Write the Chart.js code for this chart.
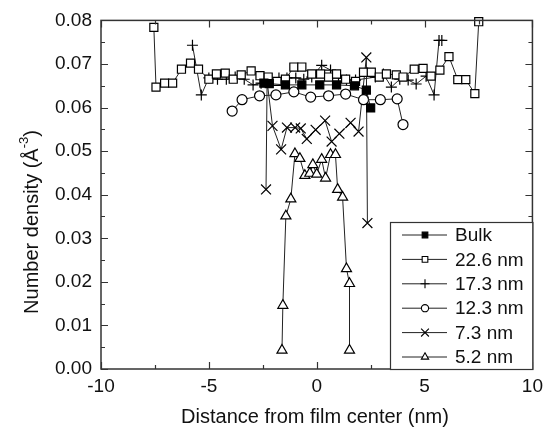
<!DOCTYPE html>
<html>
<head>
<meta charset="utf-8">
<script src="https://cdn.jsdelivr.net/npm/chart.js@4.4.1/dist/chart.umd.min.js"></script>
<style>
  html, body { margin: 0; padding: 0; background: #fff; }
  canvas { display: block; }
</style>
</head>
<body>
<canvas id="densityChart" width="549" height="429"></canvas>
<script>
// Axis ticks
const xTickValues = [-10, -5, 0, 5, 10];
const yTickValues = [0.00, 0.01, 0.02, 0.03, 0.04, 0.05, 0.06, 0.07, 0.08];

const seriesLabels = ['Bulk', '22.6 nm', '17.3 nm', '12.3 nm', '7.3 nm', '5.2 nm'];

// Bulk (filled squares)
const bulkX = [-2.45, -2.2, -1.45, -0.69, 0.14, 0.92, 1.75, 2.3, 2.5];
const bulkY = [0.0656, 0.0655, 0.0652, 0.0652, 0.0652, 0.0652, 0.0650, 0.0640, 0.0599];

// 22.6 nm (open squares)
const film226X = [-7.55, -7.45, -7.05, -6.68, -6.27, -5.85, -5.48, -5.0, -4.65, -4.24, -3.87, -3.5, -3.04, -2.63, -2.25, -1.84, -1.45, -1.06, -0.69, -0.23, 0.18, 0.55, 0.92, 1.34, 1.8, 2.17, 2.53, 2.9, 3.23, 3.69, 4.0, 4.52, 4.93, 5.3, 5.71, 6.13, 6.54, 6.91, 7.33, 7.51];
const film226Y = [0.0784, 0.0647, 0.0656, 0.0656, 0.0688, 0.0702, 0.0688, 0.0665, 0.0677, 0.0679, 0.0665, 0.0675, 0.0684, 0.0673, 0.0670, 0.0660, 0.0665, 0.0693, 0.0693, 0.0677, 0.0677, 0.0670, 0.0677, 0.0665, 0.0660, 0.0681, 0.0681, 0.0670, 0.0677, 0.0675, 0.0670, 0.0688, 0.0690, 0.0672, 0.0686, 0.0717, 0.0664, 0.0664, 0.0632, 0.0797];

// 17.3 nm (plus)
const film173X = [-5.76, -5.35, -5.0, -4.6, -4.19, -3.78, -3.36, -2.95, -2.58, -2.17, -1.75, -1.38, -0.97, -0.6, -0.23, 0.23, 0.64, 1.01, 1.38, 1.8, 2.72, 3.09, 3.46, 3.85, 4.24, 4.61, 5.07, 5.44, 5.67, 5.8];
const film173Y = [0.0743, 0.0629, 0.0668, 0.0665, 0.0665, 0.0670, 0.0665, 0.0652, 0.0656, 0.0660, 0.0668, 0.0668, 0.0668, 0.0665, 0.0670, 0.0697, 0.0686, 0.0668, 0.0663, 0.0663, 0.0670, 0.0677, 0.0647, 0.0665, 0.0663, 0.0654, 0.0672, 0.0629, 0.0754, 0.0754];

// 12.3 nm (open circles)
const film123X = [-3.92, -3.46, -2.65, -1.89, -1.06, -0.28, 0.55, 1.34, 2.17, 2.95, 3.73, 4.0];
const film123Y = [0.0592, 0.0618, 0.0627, 0.0629, 0.0636, 0.0624, 0.0627, 0.0631, 0.0618, 0.0618, 0.0620, 0.0561];

// 7.3 nm (crosses)
const film73X = [-2.35, -2.3, -2.05, -1.65, -1.38, -1.0, -0.74, -0.46, -0.05, 0.39, 0.69, 1.05, 1.57, 1.94, 2.3, 2.35];
const film73Y = [0.0412, 0.0660, 0.0558, 0.0504, 0.0554, 0.0554, 0.0552, 0.0528, 0.0549, 0.0570, 0.0522, 0.0540, 0.0565, 0.0545, 0.0715, 0.0335];

// 5.2 nm (open triangles)
const film52X = [-1.61, -1.57, -1.43, -1.2, -1.01, -0.78, -0.55, -0.32, -0.18, 0.0, 0.23, 0.41, 0.64, 0.87, 0.97, 1.2, 1.38, 1.52, 1.52];
const film52Y = [0.0043, 0.0146, 0.0351, 0.0390, 0.0494, 0.0483, 0.0444, 0.0449, 0.0469, 0.0447, 0.0481, 0.0438, 0.0492, 0.0492, 0.0412, 0.0394, 0.0230, 0.0196, 0.0043];

const FONT = "'Liberation Sans', Arial, sans-serif";
const TEXT = '#111';

function toPoints(xs, ys) {
    return xs.map((x, i) => ({ x: x, y: ys[i] }));
}

const styles = [
    { style: 'rect', radius: 5.7, fill: '#000' },
    { style: 'rect', radius: 5.7, fill: '#fff' },
    { style: 'cross', radius: 5.5, fill: '#fff' },
    { style: 'circle', radius: 5, fill: '#fff' },
    { style: 'crossRot', radius: 7, fill: '#fff' },
    { style: 'triangle', radius: 5.8, fill: '#fff' }
];
const seriesData = [
    toPoints(bulkX, bulkY),
    toPoints(film226X, film226Y),
    toPoints(film173X, film173Y),
    toPoints(film123X, film123Y),
    toPoints(film73X, film73Y),
    toPoints(film52X, film52Y)
];

const datasets = seriesData.map((pts, i) => ({
    label: seriesLabels[i],
    data: pts,
    showLine: true,
    borderColor: '#222',
    borderWidth: 1,
    pointStyle: styles[i].style,
    pointRadius: styles[i].radius,
    pointBackgroundColor: styles[i].fill,
    pointBorderColor: '#000',
    pointBorderWidth: 1.2,
    clip: false
}));

// Frame, inward ticks, axis titles and legend box
const framePlugin = {
    id: 'frame',
    afterDraw(chart) {
        const ctx = chart.ctx;
        const xs = chart.scales.x;
        const ys = chart.scales.y;
        const a = chart.chartArea;
        ctx.save();

        ctx.strokeStyle = '#333';
        ctx.lineWidth = 1.5;
        ctx.strokeRect(a.left, a.top, a.right - a.left, a.bottom - a.top);

        const majorLen = 7, minorLen = 4;
        ctx.lineWidth = 1.2;
        ctx.beginPath();
        const xMinor = xTickValues.slice(1).map((v, i) => (v + xTickValues[i]) / 2);
        const yMinor = yTickValues.slice(1).map((v, i) => (v + yTickValues[i]) / 2);
        [[xTickValues, majorLen], [xMinor, minorLen]].forEach(([vals, len]) => {
            vals.forEach(v => {
                const px = Math.round(xs.getPixelForValue(v)) + 0.5;
                ctx.moveTo(px, a.bottom); ctx.lineTo(px, a.bottom - len);
                ctx.moveTo(px, a.top); ctx.lineTo(px, a.top + len);
            });
        });
        [[yTickValues, majorLen], [yMinor, minorLen]].forEach(([vals, len]) => {
            vals.forEach(v => {
                const py = Math.round(ys.getPixelForValue(v)) + 0.5;
                ctx.moveTo(a.left, py); ctx.lineTo(a.left + len, py);
                ctx.moveTo(a.right, py); ctx.lineTo(a.right - len, py);
            });
        });
        ctx.stroke();

        // x title
        ctx.fillStyle = TEXT;
        ctx.font = '20px ' + FONT;
        ctx.textAlign = 'center';
        ctx.textBaseline = 'alphabetic';
        ctx.fillText('Distance from film center (nm)', 315, 423);

        // y title with superscript
        ctx.save();
        ctx.translate(32, 222);
        ctx.rotate(-Math.PI / 2);
        ctx.textAlign = 'left';
        ctx.textBaseline = 'middle';
        const mainTxt = 'Number density (Å';
        const supTxt = '-3';
        const endTxt = ')';
        ctx.font = '20px ' + FONT;
        const wMain = ctx.measureText(mainTxt).width;
        const wEnd = ctx.measureText(endTxt).width;
        ctx.font = '13px ' + FONT;
        const wSup = ctx.measureText(supTxt).width;
        let tx = -(wMain + wSup + wEnd) / 2;
        ctx.font = '20px ' + FONT;
        ctx.fillText(mainTxt, tx, 0);
        tx += wMain;
        ctx.font = '13px ' + FONT;
        ctx.fillText(supTxt, tx, -8);
        tx += wSup;
        ctx.font = '20px ' + FONT;
        ctx.fillText(endTxt, tx, 0);
        ctx.restore();

        // legend
        const box = { left: 390, top: 222, right: a.right, bottom: a.bottom };
        ctx.fillStyle = '#fff';
        ctx.fillRect(box.left, box.top, box.right - box.left, box.bottom - box.top);
        ctx.strokeStyle = '#333';
        ctx.lineWidth = 1.2;
        ctx.strokeRect(box.left + 0.5, box.top + 0.5, box.right - box.left, box.bottom - box.top);
        const legendRadius = [4, 4, 4.5, 3.6, 5.5, 4.2];
        seriesLabels.forEach((label, i) => {
            const cy = 235 + i * 24.4;
            ctx.strokeStyle = '#222';
            ctx.lineWidth = 1;
            ctx.beginPath();
            ctx.moveTo(402, cy); ctx.lineTo(447, cy);
            ctx.stroke();
            ctx.fillStyle = styles[i].fill;
            ctx.strokeStyle = '#000';
            ctx.lineWidth = 1.1;
            Chart.helpers.drawPoint(ctx, {
                pointStyle: styles[i].style,
                radius: legendRadius[i],
                rotation: 0,
                borderWidth: 1.1
            }, 425, cy);
            ctx.fillStyle = TEXT;
            ctx.font = '19px ' + FONT;
            ctx.textAlign = 'left';
            ctx.textBaseline = 'middle';
            ctx.fillText(label, 455, cy + 1);
        });

        ctx.restore();
    }
};

new Chart(document.getElementById('densityChart').getContext('2d'), {
    type: 'scatter',
    data: { datasets: datasets },
    options: {
        responsive: false,
        animation: false,
        devicePixelRatio: 1,
        layout: { padding: { left: 0, top: 18, right: 14, bottom: 0 } },
        plugins: {
            legend: { display: false },
            tooltip: { enabled: false }
        },
        scales: {
            x: {
                type: 'linear',
                min: -10,
                max: 10,
                afterBuildTicks: s => { s.ticks = xTickValues.map(v => ({ value: v })); },
                afterFit: s => { s.height = 60; },
                grid: { display: false, drawTicks: false },
                border: { display: false },
                ticks: { padding: 6, color: TEXT, font: { size: 19, family: FONT } }
            },
            y: {
                type: 'linear',
                min: 0,
                max: 0.08,
                afterBuildTicks: s => { s.ticks = yTickValues.map(v => ({ value: v })); },
                afterFit: s => { s.width = 101; },
                grid: { display: false, drawTicks: false },
                border: { display: false },
                ticks: {
                    padding: 9,
                    color: TEXT,
                    font: { size: 19, family: FONT },
                    callback: v => v.toFixed(2)
                }
            }
        }
    },
    plugins: [framePlugin]
});
</script>
</body>
</html>
